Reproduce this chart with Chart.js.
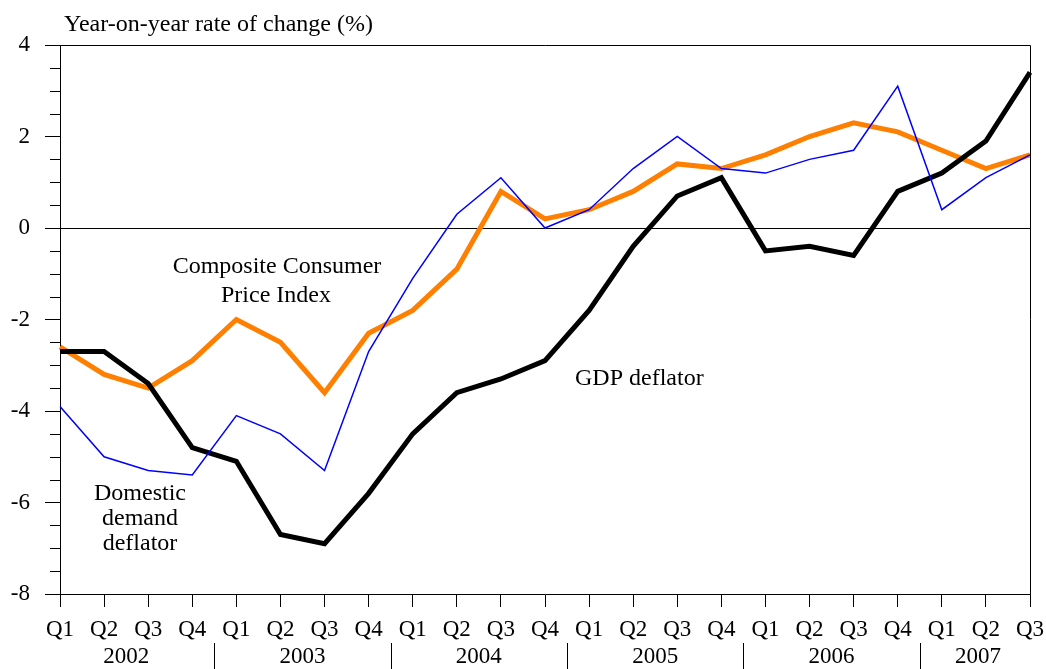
<!DOCTYPE html>
<html lang="en">
<head>
  <meta charset="UTF-8" />
  <title>Deflators and CPI</title>
  <script src="https://cdn.jsdelivr.net/npm/chart.js"></script>
  <style>
    body { margin: 0; background: #fff; }
    #chart { display: block; }
  </style>
</head>
<body>
  <canvas id="chart" width="1046" height="669"></canvas>
  <script>
    const quarters = ["Q1","Q2","Q3","Q4","Q1","Q2","Q3","Q4","Q1","Q2","Q3","Q4",
                      "Q1","Q2","Q3","Q4","Q1","Q2","Q3","Q4","Q1","Q2","Q3"];
    const years = ["2002","2003","2004","2005","2006","2007"];
    const gdpDeflator = [-2.7,-2.7,-3.4,-4.8,-5.1,-6.7,-6.9,-5.8,-4.5,-3.6,-3.3,-2.9,
                         -1.8,-0.4,0.7,1.1,-0.5,-0.4,-0.6,0.8,1.2,1.9,3.4];
    const cpi = [-2.6,-3.2,-3.5,-2.9,-2.0,-2.5,-3.6,-2.3,-1.8,-0.9,0.8,0.2,
                 0.4,0.8,1.4,1.3,1.6,2.0,2.3,2.1,1.7,1.3,1.6];
    const domesticDeflator = [-3.9,-5.0,-5.3,-5.4,-4.1,-4.5,-5.3,-2.7,-1.1,0.3,1.1,0.0,
                              0.4,1.3,2.0,1.3,1.2,1.5,1.7,3.1,0.4,1.1,1.6];

    const serif = "'Liberation Serif', 'Times New Roman', serif";

    // frame, minor ticks, year row and in-chart labels
    const extras = {
      id: "extras",
      afterDraw(chart) {
        const ctx = chart.ctx;
        const area = chart.chartArea;
        const x = chart.scales.x;
        const y = chart.scales.y;
        ctx.save();
        ctx.strokeStyle = "#000";
        ctx.lineWidth = 1;
        ctx.beginPath();
        ctx.moveTo(area.left, area.top + 0.5);
        ctx.lineTo(area.right + 0.5, area.top + 0.5);
        ctx.lineTo(area.right + 0.5, area.bottom);
        ctx.stroke();

        // minor ticks on y every 0.5
        ctx.beginPath();
        for (let v = -8; v <= 4; v += 0.5) {
          if (v % 2 === 0) continue;
          const py = Math.round(y.getPixelForValue(v)) + 0.5;
          ctx.moveTo(area.left - 10, py);
          ctx.lineTo(area.left, py);
        }
        ctx.stroke();

        // year labels and separators
        ctx.fillStyle = "#000";
        ctx.font = "23px " + serif;
        ctx.textAlign = "center";
        ctx.textBaseline = "middle";
        years.forEach((yr, i) => {
          const first = i * 4;
          const last = Math.min(first + 3, quarters.length - 1);
          const cx = (x.getPixelForValue(first) + x.getPixelForValue(last)) / 2;
          ctx.fillText(yr, cx - (last - first < 3 ? 8 : 0), 657);
          if (i > 0) {
            const sx = Math.round((x.getPixelForValue(first - 1) + x.getPixelForValue(first)) / 2) + 0.5;
            ctx.beginPath();
            ctx.moveTo(sx, 643);
            ctx.lineTo(sx, 669);
            ctx.stroke();
          }
        });

        ctx.textBaseline = "alphabetic";
        ctx.textAlign = "left";
        ctx.font = "24px " + serif;
        ctx.fillText("Year-on-year rate of change (%)", 64, 31);
        ctx.fillText("GDP deflator", 575, 385);

        ctx.textAlign = "center";
        ctx.fillText("Composite Consumer", 277, 273);
        ctx.fillText("Price Index", 276, 302);
        ctx.fillText("Domestic", 140, 500);
        ctx.fillText("demand", 140, 525);
        ctx.fillText("deflator", 140, 550);
        ctx.restore();
      }
    };

    new Chart(document.getElementById("chart"), {
      type: "line",
      data: {
        labels: quarters,
        datasets: [
          { label: "Domestic demand deflator", data: domesticDeflator, borderColor: "#0000ff",
            borderWidth: 1.5, pointRadius: 0, tension: 0, order: 1 },
          { label: "GDP deflator", data: gdpDeflator, borderColor: "#000000",
            borderWidth: 5, pointRadius: 0, tension: 0, order: 2 },
          { label: "Composite Consumer Price Index", data: cpi, borderColor: "#ff8000",
            borderWidth: 5, pointRadius: 0, tension: 0, order: 3 }
        ]
      },
      options: {
        responsive: false,
        animation: false,
        layout: { padding: { top: 45, right: 16, left: 0, bottom: 0 } },
        plugins: { legend: { display: false }, tooltip: { enabled: false } },
        scales: {
          x: {
            offset: false,
            afterFit(scale) {
              scale.height = 75;
              scale.paddingLeft = 0;
              scale.paddingRight = 0;
            },
            grid: { drawOnChartArea: false, tickLength: 13, tickColor: "#000" },
            border: { color: "#000", width: 1 },
            ticks: { color: "#000", font: { family: serif, size: 23 }, padding: 9,
                     maxRotation: 0, autoSkip: false }
          },
          y: {
            min: -8, max: 4,
            afterFit(scale) { scale.width = 60; },
            grid: {
              drawOnChartArea: true, tickLength: 15, tickColor: "#000",
              color: (c) => (c.tick && c.tick.value === 0 ? "#000" : "rgba(0,0,0,0)")
            },
            border: { color: "#000", width: 1 },
            ticks: { stepSize: 2, color: "#000", font: { family: serif, size: 23 }, padding: 15 }
          }
        }
      },
      plugins: [extras]
    });
  </script>
</body>
</html>
